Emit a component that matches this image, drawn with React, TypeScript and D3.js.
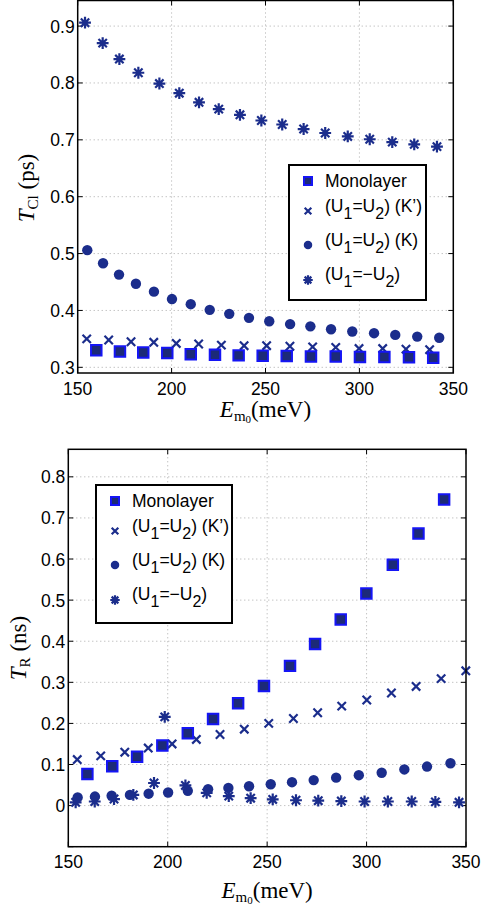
import React from "react";
import * as d3 from "d3";

// ---------- DATA ----------
const xTicks = [150, 200, 250, 300, 350];
const topYTicks = [0.3, 0.4, 0.5, 0.6, 0.7, 0.8, 0.9];
const botYTicks = [-0.1, 0, 0.1, 0.2, 0.3, 0.4, 0.5, 0.6, 0.7, 0.8];
const botYTickLabels = ["", "0", "0.1", "0.2", "0.3", "0.4", "0.5", "0.6", "0.7", "0.8"];

const topMonoX = [159.9, 172.5, 184.9, 197.7, 210.2, 223.1, 235.7, 248.5, 261.3, 274.2, 287.4, 300.3, 313.3, 326.4, 339.3];
const topMonoY = [0.33, 0.328, 0.326, 0.325, 0.323, 0.322, 0.321, 0.3205, 0.32, 0.319, 0.319, 0.318, 0.318, 0.3175, 0.317];
const topKpX = [154.8, 166.5, 178.4, 190.5, 202.5, 214.4, 226.5, 238.6, 250.6, 263.0, 275.1, 287.4, 299.8, 312.4, 324.8, 337.4];
const topKpY = [0.35, 0.348, 0.345, 0.344, 0.342, 0.341, 0.339, 0.338, 0.338, 0.337, 0.336, 0.335, 0.333, 0.333, 0.332, 0.331];
const topKX = [155.1, 163.5, 172.0, 181.0, 190.6, 200.2, 210.2, 220.3, 230.7, 241.2, 252.0, 263.1, 273.9, 284.9, 296.2, 307.8, 319.1, 330.8, 342.5];
const topKY = [0.506, 0.483, 0.463, 0.447, 0.433, 0.42, 0.411, 0.401, 0.394, 0.387, 0.381, 0.376, 0.372, 0.367, 0.363, 0.36, 0.357, 0.354, 0.352];
const topAsX = [153.9, 163.3, 172.2, 182.3, 193.5, 204.1, 214.6, 225.1, 236.4, 247.8, 258.9, 270.3, 281.8, 293.8, 305.5, 317.5, 329.2, 341.3];
const topAsY = [0.906, 0.87, 0.842, 0.818, 0.799, 0.782, 0.766, 0.754, 0.744, 0.734, 0.727, 0.719, 0.712, 0.706, 0.701, 0.696, 0.692, 0.688];

const botMonoX = [159.6, 172.1, 184.6, 197.3, 210.1, 222.8, 235.4, 248.4, 261.5, 274.1, 287.0, 299.9, 313.2, 326.1, 339.0];
const botMonoY = [0.077, 0.096, 0.119, 0.146, 0.176, 0.211, 0.249, 0.291, 0.34, 0.393, 0.453, 0.516, 0.586, 0.662, 0.745];
const botKpX = [154.5, 166.3, 178.4, 190.2, 202.2, 214.4, 226.3, 238.5, 250.8, 263.2, 275.4, 287.5, 300.1, 312.5, 324.9, 337.5, 349.9];
const botKpY = [0.112, 0.121, 0.13, 0.14, 0.15, 0.161, 0.173, 0.186, 0.2, 0.212, 0.226, 0.242, 0.257, 0.274, 0.29, 0.309, 0.328];
const botKX = [154.7, 163.4, 171.8, 181.0, 190.4, 200.2, 210.1, 220.3, 230.5, 240.9, 251.8, 262.5, 273.4, 284.7, 296.1, 307.6, 319.0, 330.4, 342.2];
const botKY = [0.02, 0.022, 0.024, 0.026, 0.029, 0.032, 0.036, 0.04, 0.043, 0.047, 0.052, 0.057, 0.062, 0.068, 0.074, 0.08, 0.088, 0.095, 0.103];
const botAsX = [153.7, 163.3, 173.0, 182.7, 193.1, 198.5, 208.9, 219.6, 230.7, 241.7, 252.8, 264.5, 275.7, 287.3, 299.0, 310.7, 322.7, 334.6, 346.5];
const botAsY = [0.008, 0.01, 0.016, 0.026, 0.055, 0.216, 0.049, 0.031, 0.023, 0.018, 0.015, 0.013, 0.012, 0.011, 0.01, 0.01, 0.01, 0.009, 0.008];

const NAVY = "#1b2d8c";
const SQ_FILL = "#1c2a78";
const SQ_EDGE = "#1515f5";
const SANS = "'Liberation Sans', Arial, sans-serif";
const SERIF = "'Liberation Serif', 'DejaVu Serif', serif";

// ---------- SYMBOLS ----------
const asteriskType = {
  draw(ctx: any, size: number) {
    const r = Math.sqrt(size) / 2;
    const d = r * Math.SQRT1_2;
    ctx.moveTo(0, -r); ctx.lineTo(0, r);
    ctx.moveTo(-r, 0); ctx.lineTo(r, 0);
    ctx.moveTo(-d, -d); ctx.lineTo(d, d);
    ctx.moveTo(-d, d); ctx.lineTo(d, -d);
  },
};
const crossType = {
  draw(ctx: any, size: number) {
    const r = Math.sqrt(size) / 2;
    ctx.moveTo(-r, -r); ctx.lineTo(r, r);
    ctx.moveTo(-r, r); ctx.lineTo(r, -r);
  },
};
const symSquare = d3.symbol().type(d3.symbolSquare).size(110)() as string;
const symCircle = d3.symbol().type(d3.symbolCircle).size(Math.PI * 27)() as string;
const symCross = d3.symbol().type(crossType as any).size(70)() as string;
const symAst = d3.symbol().type(asteriskType as any).size(140)() as string;
const symCrossL = d3.symbol().type(crossType as any).size(44)() as string;
const symAstL = d3.symbol().type(asteriskType as any).size(90)() as string;
const symSquareL = d3.symbol().type(d3.symbolSquare).size(64)() as string;
const symCircleL = d3.symbol().type(d3.symbolCircle).size(Math.PI * 18)() as string;

function Marker({ kind, x, y, legend }: { kind: string; x: number; y: number; legend?: boolean }) {
  const t = `translate(${x},${y})`;
  if (kind === "sq")
    return <path transform={t} d={legend ? symSquareL : symSquare} fill={SQ_FILL} stroke={SQ_EDGE} strokeWidth={2} />;
  if (kind === "ci") return <path transform={t} d={legend ? symCircleL : symCircle} fill={NAVY} />;
  if (kind === "x")
    return <path transform={t} d={legend ? symCrossL : symCross} fill="none" stroke={NAVY} strokeWidth={2.2} />;
  return <path transform={t} d={legend ? symAstL : symAst} fill="none" stroke={NAVY} strokeWidth={2.2} />;
}

type Series = { kind: string; xs: number[]; ys: number[] };

function LegendLabel({ i, x, y }: { i: number; x: number; y: number }) {
  const fs = 17.5;
  const common = { fontFamily: SANS, fontSize: fs, fill: "#000" } as any;
  if (i === 0)
    return (
      <text x={x} y={y} {...common}>
        Monolayer
      </text>
    );
  const tail = i === 1 ? ") (K’)" : i === 2 ? ") (K)" : ")";
  const mid = i === 3 ? "=−U" : "=U";
  return (
    <text x={x} y={y} {...common}>
      <tspan>(U</tspan>
      <tspan dy={7} fontSize={16}>1</tspan>
      <tspan dy={-7}>{mid}</tspan>
      <tspan dy={7} fontSize={16}>2</tspan>
      <tspan dy={-7}>{tail}</tspan>
    </text>
  );
}

function Panel(props: {
  left: number; right: number; top: number; bottom: number;
  yDomain: [number, number]; yTicks: number[]; yTickLabels: string[];
  series: Series[]; legend: { x: number; y: number; w: number; h: number };
  yLabel: { x: number; y: number; sub: string; unit: string }; xLabelY: number; xTickY: number;
}) {
  const { left, right, top, bottom, yDomain, yTicks, yTickLabels, series, legend } = props;
  const x = d3.scaleLinear().domain([150, 350]).range([left, right]);
  const y = d3.scaleLinear().domain(yDomain).range([bottom, top]);
  const cx = (left + right) / 2;
  const kinds = ["sq", "x", "ci", "as"];
  const rowOff = [16, 46, 80, 115];
  const textOff = [22, 47, 81, 115];
  return (
    <g>
      {xTicks.slice(1, -1).map((t) => (
        <line key={"gx" + t} x1={x(t)} x2={x(t)} y1={top} y2={bottom} stroke="#aaa" strokeWidth={1} strokeDasharray="1,3" />
      ))}
      {yTicks.map((t) => (
        <line key={"gy" + t} x1={left} x2={right} y1={y(t)} y2={y(t)} stroke="#aaa" strokeWidth={1} strokeDasharray="1,3" />
      ))}
      {xTicks.map((t) => (
        <g key={"tx" + t}>
          <line x1={x(t)} x2={x(t)} y1={bottom} y2={bottom - 5} stroke="#000" />
          <line x1={x(t)} x2={x(t)} y1={top} y2={top + 5} stroke="#000" />
          <text x={x(t)} y={props.xTickY} textAnchor="middle" fontFamily={SANS} fontSize={17.5}>
            {t}
          </text>
        </g>
      ))}
      {yTicks.map((t, i) => (
        <g key={"ty" + t}>
          <line x1={left} x2={left + 5} y1={y(t)} y2={y(t)} stroke="#000" />
          <line x1={right} x2={right - 5} y1={y(t)} y2={y(t)} stroke="#000" />
          <text x={left - 3} y={y(t) + 6.5} textAnchor="end" fontFamily={SANS} fontSize={17.5}>
            {yTickLabels[i]}
          </text>
        </g>
      ))}
      {series.map((s, si) => (
        <g key={"s" + si}>
          {s.xs.map((v, j) => (
            <Marker key={j} kind={s.kind} x={x(v)} y={y(s.ys[j])} />
          ))}
        </g>
      ))}
      <rect x={left} y={top} width={right - left} height={bottom - top} fill="none" stroke="#000" strokeWidth={1.5} />
      <rect x={legend.x} y={legend.y} width={legend.w} height={legend.h} fill="#fff" stroke="#000" strokeWidth={2} />
      {kinds.map((k, i) => (
        <g key={"l" + k}>
          <Marker kind={k} x={legend.x + 19} y={legend.y + rowOff[i]} legend />
          <LegendLabel i={i} x={legend.x + 36} y={legend.y + textOff[i]} />
        </g>
      ))}
      <text x={cx} y={props.xLabelY} textAnchor="middle" fontFamily={SERIF} fontSize={23}>
        <tspan fontStyle="italic">E</tspan>
        <tspan dy={4} fontSize={15}>m</tspan>
        <tspan dy={2} fontSize={11}>0</tspan>
        <tspan dy={-6}>(meV)</tspan>
      </text>
      <text transform={`translate(${props.yLabel.x},${props.yLabel.y}) rotate(-90)`} textAnchor="middle" fontFamily={SERIF} fontSize={23}>
        <tspan fontStyle="italic">T</tspan>
        <tspan dy={4} fontSize={15}>{props.yLabel.sub}</tspan>
        <tspan dy={-4}>{" (" + props.yLabel.unit + ")"}</tspan>
      </text>
    </g>
  );
}

export default function App() {
  return (
    <svg width={481} height={906} style={{ position: "absolute", left: 0, top: 0, background: "#fff" }}>
      <rect width={481} height={906} fill="#fff" />
      <Panel
        left={77.7} right={453.3} top={0.5} bottom={373}
        yDomain={[0.29, 0.945]} yTicks={topYTicks} yTickLabels={topYTicks.map((t) => t.toFixed(1))}
        series={[
          { kind: "as", xs: topAsX, ys: topAsY },
          { kind: "ci", xs: topKX, ys: topKY },
          { kind: "x", xs: topKpX, ys: topKpY },
          { kind: "sq", xs: topMonoX, ys: topMonoY },
        ]}
        legend={{ x: 289, y: 165, w: 137, h: 135 }}
        yLabel={{ x: 34, y: 188, sub: "Cl", unit: "ps" }}
        xLabelY={417} xTickY={395}
      />
      <Panel
        left={68.3} right={466} top={449.3} bottom={846.7}
        yDomain={[-0.1, 0.867]} yTicks={botYTicks} yTickLabels={botYTickLabels}
        series={[
          { kind: "as", xs: botAsX, ys: botAsY },
          { kind: "ci", xs: botKX, ys: botKY },
          { kind: "x", xs: botKpX, ys: botKpY },
          { kind: "sq", xs: botMonoX, ys: botMonoY },
        ]}
        legend={{ x: 96, y: 485, w: 136, h: 138 }}
        yLabel={{ x: 26, y: 648, sub: "R", unit: "ns" }}
        xLabelY={898} xTickY={868}
      />
    </svg>
  );
}
